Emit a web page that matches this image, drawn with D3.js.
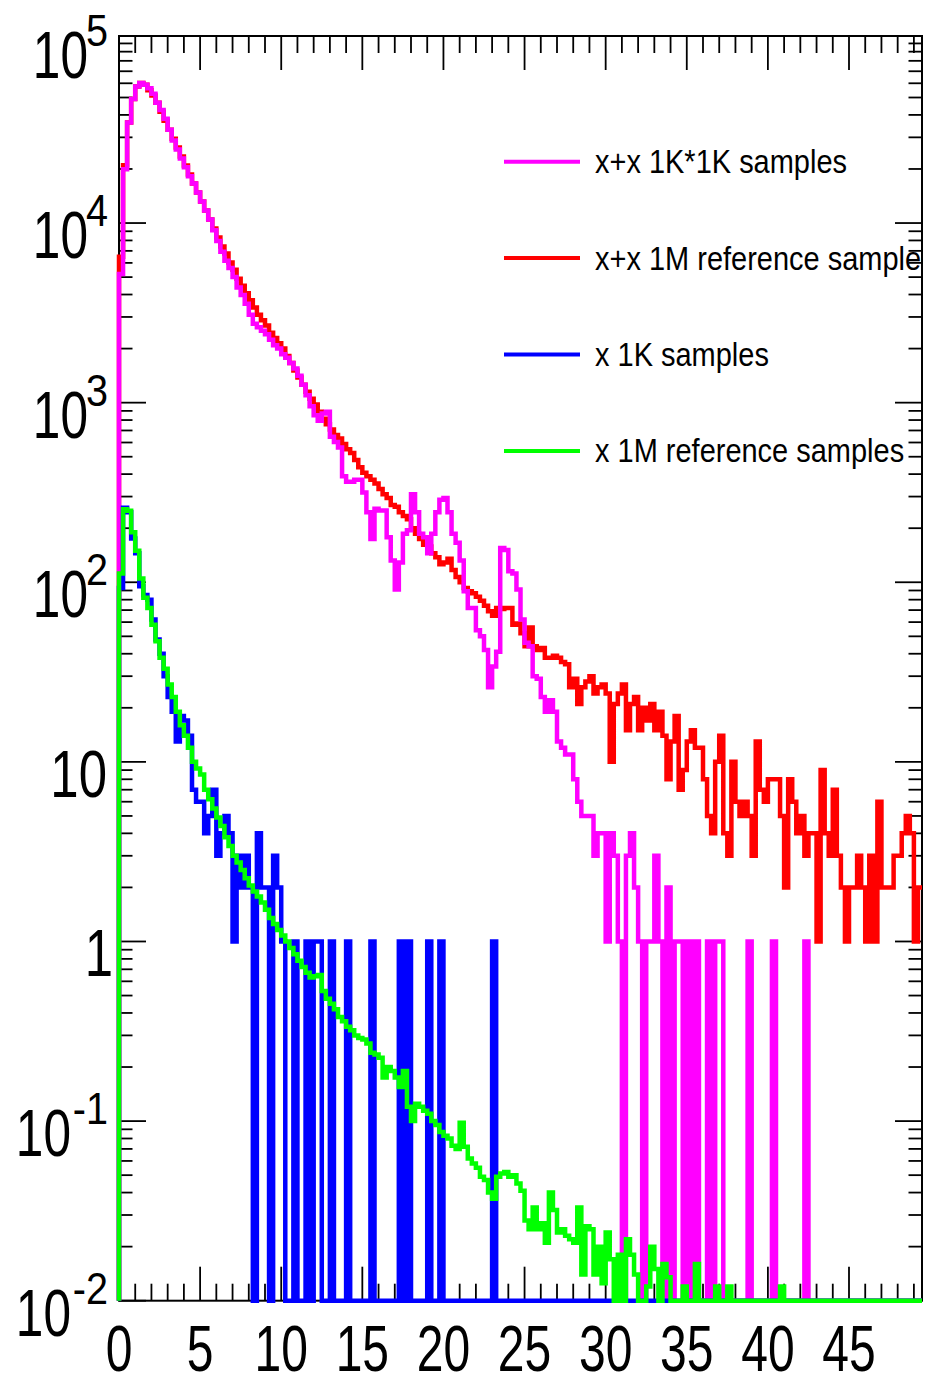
<!DOCTYPE html>
<html>
<head>
<meta charset="utf-8">
<title>x+x samples</title>
<script src="https://d3js.org/d3.v7.min.js"></script>
<style>
  body { margin: 0; background: #fff; }
  svg { display: block; }
  text { font-family: "Liberation Sans", Arial, Helvetica, sans-serif; fill: #000; }
</style>
</head>
<body>
<svg id="chart" width="925" height="1377"></svg>
<script>
// histogram contents: 198 bins of width 0.25 starting at x = 0
var binWidth = 0.25;

// x+x 1K*1K samples (magenta)
var xxSamples = [
  5200, 19950, 36310, 48980, 57540, 60260, 58880, 56230, 52480, 46770,
  42660, 38020, 33110, 28840, 25700, 22910, 20420, 18200, 16600, 14790,
  13180, 11750, 10470, 9120, 7940, 6920, 6170, 5620, 5010, 4370,
  3980, 3550, 3090, 2750, 2630, 2510, 2400, 2240, 2090, 2000,
  1860, 1780, 1660, 1550, 1410, 1260, 1100, 955, 851, 794,
  871, 891, 646, 603, 562, 389, 363, 363, 372, 372,
  316, 245, 174, 257, 251, 251, 178, 132, 91, 129,
  186, 195, 309, 245, 186, 178, 145, 186, 245, 288,
  295, 245, 186, 166, 132, 89, 72, 72, 54, 50,
  42, 26, 34, 41, 155, 151, 115, 112, 91, 62,
  46, 44, 30, 29, 23, 19, 22, 19, 13, 12,
  11, 11, 8, 6, 5, 5, 5, 3, 4, 4,
  1, 4, 3, 1, 0, 3, 4, 2, 1, 0,
  1, 1, 3, 1, 0, 2, 0, 1, 1, 0,
  1, 0, 1, 0, 0, 1, 0, 1, 1, 0,
  0, 0, 0, 0, 0, 1, 0, 0, 0, 0,
  0, 1, 0, 0, 0, 0, 0, 0, 0, 1,
  0, 0, 0, 0, 0, 0, 0, 0, 0, 0,
  0, 0, 0, 0, 0, 0, 0, 0, 0, 0,
  0, 0, 0, 0, 0, 0, 0, 0
];

// x+x 1M reference sample (red)
var xxReference = [
  6500, 21000, 36310, 48980, 57540, 60260, 58880, 54950, 51290, 46770,
  41690, 37150, 33110, 29510, 26300, 23440, 20890, 18620, 16600, 14790,
  13180, 11750, 10470, 9330, 8320, 7410, 6760, 6030, 5500, 4900,
  4470, 4070, 3720, 3390, 3090, 2880, 2690, 2450, 2290, 2140,
  2000, 1820, 1660, 1510, 1380, 1260, 1150, 1050, 977, 891,
  813, 759, 708, 661, 631, 589, 550, 525, 479, 437,
  407, 389, 372, 355, 331, 309, 295, 269, 263, 245,
  234, 224, 200, 186, 174, 162, 158, 145, 138, 126,
  129, 135, 117, 107, 100, 93, 89, 87, 83, 79,
  74, 69, 65, 72, 71, 72, 72, 58, 59, 52,
  44, 56, 44, 42, 43, 38, 38, 39, 38, 36,
  35, 26, 29, 21, 26, 28, 30, 24, 26, 27,
  24, 10, 21, 24, 27, 15, 21, 23, 15, 20,
  17, 21, 15, 19, 14, 8, 13, 18, 7, 9,
  13, 15, 12, 12, 8, 5, 4, 10, 14, 4,
  3, 10, 6, 5, 6, 5, 3, 13, 7, 6,
  8, 8, 8, 5, 2, 8, 6, 4, 5, 3,
  4, 4, 1, 9, 4, 3, 7, 3, 2, 1,
  2, 2, 3, 2, 1, 3, 1, 6, 2, 2,
  2, 3, 3, 4, 5, 4, 1, 2
];

// x 1K samples (blue)
var xSamples = [
  93, 260, 245, 175, 145, 95, 85, 80, 62, 48,
  40, 30, 23, 19, 13, 18, 17, 14, 7, 6,
  6, 4, 5, 7, 3, 4, 5, 4, 1, 3,
  2, 3, 2, 0, 4, 2, 2, 0, 3, 2,
  1, 0, 0, 1, 0, 0, 1, 0, 1, 1,
  0, 0, 1, 0, 0, 0, 1, 0, 0, 0,
  0, 0, 1, 0, 0, 0, 0, 0, 0, 1,
  0, 1, 0, 0, 0, 0, 1, 0, 0, 1,
  0, 0, 0, 0, 0, 0, 0, 0, 0, 0,
  0, 0, 1, 0, 0, 0, 0, 0, 0, 0,
  0, 0, 0, 0, 0, 0, 0, 0, 0, 0,
  0, 0, 0, 0, 0, 0, 0, 0, 0, 0,
  0, 0, 0, 0, 0, 0, 0, 0, 0, 0,
  0, 0, 0, 0, 0, 0, 0, 0, 0, 0,
  0, 0, 0, 0, 0, 0, 0, 0, 0, 0,
  0, 0, 0, 0, 0, 0, 0, 0, 0, 0,
  0, 0, 0, 0, 0, 0, 0, 0, 0, 0,
  0, 0, 0, 0, 0, 0, 0, 0, 0, 0,
  0, 0, 0, 0, 0, 0, 0, 0, 0, 0,
  0, 0, 0, 0, 0, 0, 0, 0
];

// x 1M reference samples, scaled to 1K (green)
var xReference = [
  112, 255, 250, 190, 150, 105, 82, 72, 58, 47,
  38, 33, 27, 23, 19, 16, 14, 12, 10, 9.2,
  8.5, 7, 6.2, 5.5, 4.9, 4.4, 3.8, 3.4, 3.0, 2.75,
  2.5, 2.25, 2.05, 1.9, 1.78, 1.65, 1.5, 1.35, 1.25, 1.16,
  1.08, 1.0, 0.92, 0.85, 0.78, 0.72, 0.67, 0.63, 0.64, 0.65,
  0.53, 0.48, 0.45, 0.42, 0.38, 0.36, 0.335, 0.32, 0.30, 0.29,
  0.285, 0.27, 0.24, 0.235, 0.225, 0.175, 0.20, 0.19, 0.175, 0.155,
  0.19, 0.12, 0.10, 0.125, 0.12, 0.114, 0.11, 0.10, 0.095, 0.087,
  0.083, 0.08, 0.073, 0.07, 0.098, 0.072, 0.062, 0.058, 0.055, 0.049,
  0.047, 0.04, 0.037, 0.049, 0.051, 0.052, 0.049, 0.05, 0.045, 0.041,
  0.028, 0.025, 0.033, 0.025, 0.027, 0.021, 0.040, 0.032, 0.024, 0.025,
  0.023, 0.022, 0.021, 0.033, 0.014, 0.026, 0.025, 0.014, 0.02, 0.0125,
  0.024, 0.017, 0, 0.018, 0, 0.022, 0.018, 0.014, 0, 0,
  0.012, 0.02, 0.015, 0, 0.016, 0.0135, 0, 0, 0, 0.012,
  0, 0, 0.016, 0, 0, 0, 0, 0.012, 0, 0,
  0.012, 0, 0, 0, 0, 0, 0, 0, 0, 0,
  0, 0, 0, 0.012, 0, 0, 0, 0, 0, 0,
  0, 0, 0, 0, 0, 0, 0, 0, 0, 0,
  0, 0, 0, 0, 0, 0, 0, 0, 0, 0,
  0, 0, 0, 0, 0, 0, 0, 0
];

var legendLabels = ["x+x 1K*1K samples", "x+x 1M reference sample", "x 1K samples", "x 1M reference samples"];
var legendColors = ["#ff00ff", "#ff0000", "#0000ff", "#00ff00"];

var xTickLabels = [0, 5, 10, 15, 20, 25, 30, 35, 40, 45];
var yDecades = [-2, -1, 0, 1, 2, 3, 4, 5];

var svg = d3.select("#chart"),
    frame = { left: 119, right: 922, top: 36, bottom: 1300.7 };

var x = d3.scaleLinear()
    .domain([0, 49.5])
    .range([frame.left, frame.right]);

var y = d3.scaleLog()
    .domain([0.01, 1.1e5])
    .range([frame.bottom, frame.top]);

var yMin = y.domain()[0];

svg.append("rect")
    .attr("width", 925).attr("height", 1377)
    .attr("fill", "#fff");

// ticks on all four sides
var ticks = svg.append("g")
    .attr("stroke", "#000")
    .attr("stroke-width", 1.8);

d3.range(0, 50, 1).forEach(function (v) {
  var len = v % 5 == 0 ? 34 : 17;
  ticks.append("line")
      .attr("x1", x(v)).attr("x2", x(v))
      .attr("y1", frame.bottom).attr("y2", frame.bottom - len);
  ticks.append("line")
      .attr("x1", x(v)).attr("x2", x(v))
      .attr("y1", frame.top).attr("y2", frame.top + len);
});

var yTicks = [];
yDecades.forEach(function (d) {
  d3.range(1, 10).forEach(function (k) {
    var v = k * Math.pow(10, d);
    if (v <= y.domain()[1]) yTicks.push({ v: v, major: k == 1 && d < 5 });
  });
});

yTicks.forEach(function (t) {
  var len = t.major ? 27 : 13.5;
  ticks.append("line")
      .attr("x1", frame.left).attr("x2", frame.left + len)
      .attr("y1", y(t.v)).attr("y2", y(t.v));
  ticks.append("line")
      .attr("x1", frame.right).attr("x2", frame.right - len)
      .attr("y1", y(t.v)).attr("y2", y(t.v));
});

svg.append("rect")
    .attr("x", frame.left).attr("y", frame.top)
    .attr("width", frame.right - frame.left)
    .attr("height", frame.bottom - frame.top)
    .attr("fill", "none")
    .attr("stroke", "#000")
    .attr("stroke-width", 2);

// histograms as step outlines, empty bins sit on the frame bottom
function steps(values) {
  var pts = [[0, yMin]];
  values.forEach(function (v, i) {
    pts.push([i * binWidth, v]);
    pts.push([(i + 1) * binWidth, v]);
  });
  return pts;
}

var line = d3.line()
    .x(d => x(d[0]))
    .y(d => y(Math.max(d[1], yMin)));

var series = [
  { values: xxReference, color: legendColors[1] },
  { values: xxSamples, color: legendColors[0] },
  { values: xSamples, color: legendColors[2] },
  { values: xReference, color: legendColors[3] }
];

svg.selectAll("path.hist")
    .data(series)
    .enter().append("path")
    .attr("class", "hist")
    .attr("d", d => line(steps(d.values)))
    .attr("fill", "none")
    .attr("stroke", d => d.color)
    .attr("stroke-width", 4.5)
    .attr("stroke-linejoin", "miter");

// x axis labels
svg.append("g").selectAll("g")
    .data(xTickLabels)
    .enter().append("g")
    .attr("transform", d => "translate(" + x(d) + ",1371) scale(0.75,1)")
    .append("text")
    .attr("text-anchor", "middle")
    .attr("font-size", 64)
    .text(d => d);

// y axis labels: base "10" and a separate exponent
var yLabel = svg.append("g").selectAll("g")
    .data(yDecades)
    .enter().append("g")
    .attr("transform", d => "translate(0," + (y(Math.pow(10, d)) + 35) + ")");

yLabel.each(function (d) {
  var g = d3.select(this);
  if (d == 0 || d == 1) {
    g.append("g")
        .attr("transform", "translate(" + (d == 0 ? 113 : 107) + ",0) scale(0.76,1)")
        .append("text")
        .attr("text-anchor", "end")
        .attr("font-size", 67)
        .text(d == 0 ? "1" : "10");
    return;
  }
  g.append("g")
      .attr("transform", "translate(" + (d < 0 ? 71 : 88) + ",0) scale(0.74,1)")
      .append("text")
      .attr("text-anchor", "end")
      .attr("font-size", 67)
      .text("10");
  g.append("g")
      .attr("transform", "translate(108,-32) scale(0.9,1)")
      .append("text")
      .attr("text-anchor", "end")
      .attr("font-size", 44)
      .text(d < 0 ? "-" + (-d) : d);
});

// legend
var legend = svg.append("g").selectAll("g")
    .data(legendLabels)
    .enter().append("g")
    .attr("transform", (d, i) => "translate(504," + (161.7 + i * 96.4) + ")");

legend.append("line")
    .attr("x1", 0).attr("x2", 76)
    .attr("stroke", (d, i) => legendColors[i])
    .attr("stroke-width", 4);

legend.append("g")
    .attr("transform", "translate(91,11.5) scale(0.865,1)")
    .append("text")
    .attr("font-size", 33.5)
    .text(d => d);
</script>
</body>
</html>
